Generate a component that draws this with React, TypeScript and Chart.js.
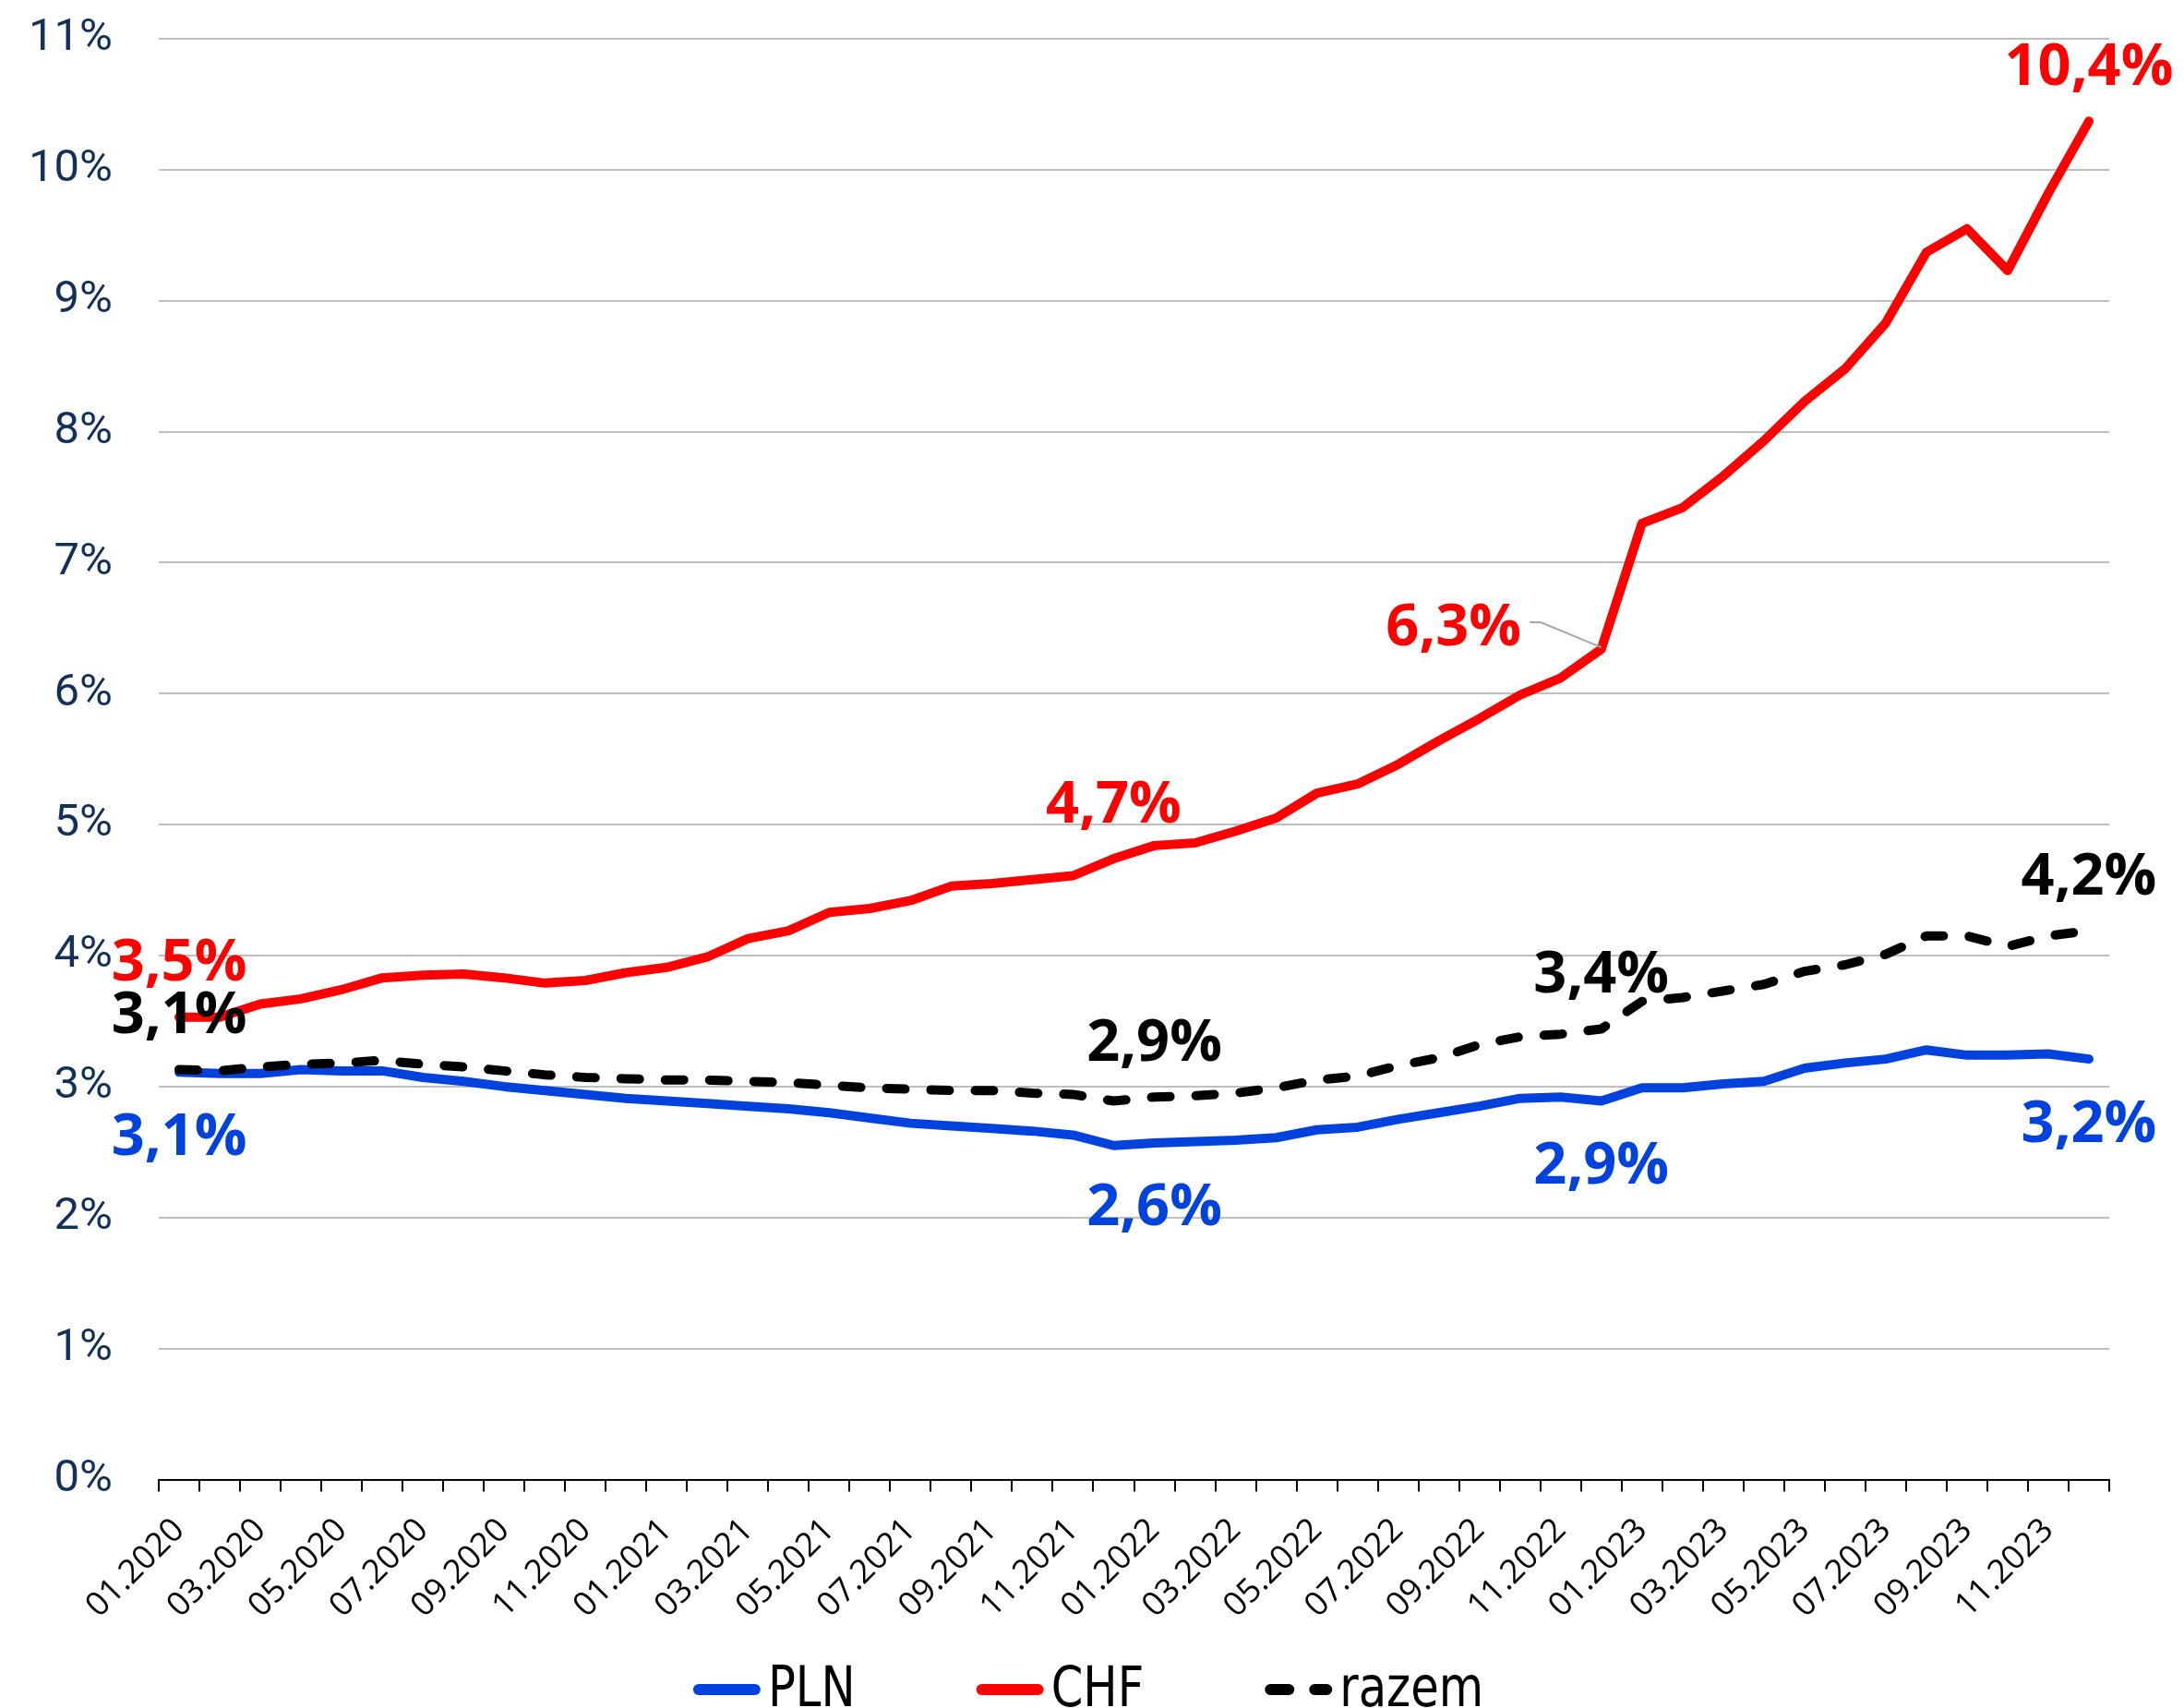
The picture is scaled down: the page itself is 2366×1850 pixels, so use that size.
import React, { useEffect, useRef } from 'react';
import { Chart, registerables } from 'chart.js';

Chart.register(...registerables);

// ---------- data ----------
const MONTHS = [
  '01.2020', '02.2020', '03.2020', '04.2020', '05.2020', '06.2020',
  '07.2020', '08.2020', '09.2020', '10.2020', '11.2020', '12.2020',
  '01.2021', '02.2021', '03.2021', '04.2021', '05.2021', '06.2021',
  '07.2021', '08.2021', '09.2021', '10.2021', '11.2021', '12.2021',
  '01.2022', '02.2022', '03.2022', '04.2022', '05.2022', '06.2022',
  '07.2022', '08.2022', '09.2022', '10.2022', '11.2022', '12.2022',
  '01.2023', '02.2023', '03.2023', '04.2023', '05.2023', '06.2023',
  '07.2023', '08.2023', '09.2023', '10.2023', '11.2023', '12.2023',
];

const PLN = [
  3.11, 3.10, 3.10, 3.13, 3.12, 3.12, 3.07, 3.04, 3.00, 2.97, 2.94, 2.91,
  2.89, 2.87, 2.85, 2.83, 2.80, 2.76, 2.72, 2.70, 2.68, 2.66, 2.63, 2.55,
  2.57, 2.58, 2.59, 2.61, 2.67, 2.69, 2.75, 2.80, 2.85, 2.91, 2.92, 2.89,
  2.99, 2.99, 3.02, 3.04, 3.14, 3.18, 3.21, 3.28, 3.24, 3.24, 3.25, 3.21,
];

const CHF = [
  3.53, 3.53, 3.63, 3.67, 3.74, 3.83, 3.85, 3.86, 3.83, 3.79, 3.81, 3.87,
  3.91, 3.99, 4.13, 4.19, 4.33, 4.36, 4.42, 4.53, 4.55, 4.58, 4.61, 4.74,
  4.84, 4.86, 4.95, 5.05, 5.24, 5.31, 5.46, 5.64, 5.81, 5.99, 6.12, 6.34,
  7.30, 7.42, 7.66, 7.93, 8.23, 8.48, 8.83, 9.37, 9.55, 9.23, 9.82, 10.37,
];

const RAZEM = [
  3.13, 3.12, 3.15, 3.17, 3.18, 3.20, 3.17, 3.15, 3.12, 3.09, 3.07, 3.06,
  3.05, 3.05, 3.04, 3.03, 3.01, 2.99, 2.98, 2.97, 2.97, 2.95, 2.94, 2.89,
  2.92, 2.93, 2.95, 2.99, 3.05, 3.08, 3.16, 3.22, 3.32, 3.38, 3.40, 3.44,
  3.65, 3.68, 3.73, 3.78, 3.88, 3.93, 4.01, 4.15, 4.15, 4.07, 4.15, 4.19,
];

const SERIES_NAMES = ['PLN', 'CHF', 'razem'];

const Y_TICKS = [0, 1, 2, 3, 4, 5, 6, 7, 8, 9, 10, 11];

// which points carry a value label, and on which side
const POINT_LABELS = [
  { series: 'CHF', index: 0, place: 'above' },
  { series: 'razem', index: 0, place: 'above' },
  { series: 'PLN', index: 0, place: 'below' },
  { series: 'CHF', index: 23, place: 'above' },
  { series: 'razem', index: 24, place: 'above' },
  { series: 'PLN', index: 24, place: 'below' },
  { series: 'CHF', index: 35, place: 'leftLeader' },
  { series: 'razem', index: 35, place: 'above' },
  { series: 'PLN', index: 35, place: 'below' },
  { series: 'CHF', index: 47, place: 'above' },
  { series: 'razem', index: 47, place: 'above' },
  { series: 'PLN', index: 47, place: 'below' },
];

// ---------- styles ----------
const W = 2366;
const H = 1850;
const BLUE = '#0042DE';
const RED = '#FF0000';
const BLACK = '#000000';
const NAVY = '#12305A';
const GRID = '#BFBFBF';
const SERIES_COLORS: Record<string, string> = { PLN: BLUE, CHF: RED, razem: BLACK };
const PLACE: Record<string, { dx: number; dy: number }> = {
  above: { dx: 0, dy: -62 },
  below: { dx: 0, dy: 67 },
  leftLeader: { dx: -160, dy: -27 },
};
const LABEL_FONT_SIZE = 63;
const LEGEND = {
  font: '60px "DejaVu Sans Condensed", "DejaVu Sans", sans-serif',
  squeeze: 0.92,
  lineLen: 73,
  lineWidth: 12,
  textGap: 8,
  itemGap: 131,
  centerX: 1179,
  lineY: 1830,
  baseline: 1848,
};

const pointLabelPlugin = {
  id: 'pointLabels',
  afterDatasetsDraw(chart: any) {
    const ctx = chart.ctx;
    ctx.save();
    ctx.font = `bold ${LABEL_FONT_SIZE}px "Open Sans", "Noto Sans", sans-serif`;
    ctx.textAlign = 'center';
    ctx.textBaseline = 'alphabetic';
    for (const lab of POINT_LABELS) {
      const dsIndex = SERIES_NAMES.indexOf(lab.series);
      const meta = chart.getDatasetMeta(dsIndex);
      const pt = meta.data[lab.index];
      if (!pt) continue;
      const value = chart.data.datasets[dsIndex].data[lab.index] as number;
      const text = value.toFixed(1).replace('.', ',') + '%';
      const off = PLACE[lab.place];
      const cx = pt.x + off.dx;
      const cy = pt.y + off.dy;
      ctx.fillStyle = SERIES_COLORS[lab.series];
      ctx.fillText(text, cx, cy + LABEL_FONT_SIZE * 0.357);
      if (lab.place === 'leftLeader') {
        const tw = ctx.measureText(text).width;
        const sx = cx + tw / 2 + 9;
        const sy = cy - 2;
        ctx.save();
        ctx.strokeStyle = '#A6A6A6';
        ctx.lineWidth = 2;
        ctx.beginPath();
        ctx.moveTo(sx, sy);
        ctx.lineTo(sx + 12, sy);
        ctx.lineTo(pt.x, pt.y - 2);
        ctx.stroke();
        ctx.restore();
      }
    }
    ctx.restore();
  },
};

// legend drawn from the datasets' own label / colour / dash settings
const bottomLegendPlugin = {
  id: 'bottomLegend',
  afterDraw(chart: any) {
    const ctx = chart.ctx;
    const dsets = chart.data.datasets;
    ctx.save();
    ctx.font = LEGEND.font;
    const widths = dsets.map((d: any) => ctx.measureText(d.label).width * LEGEND.squeeze);
    const itemW = widths.map((w: number) => LEGEND.lineLen + LEGEND.textGap + w);
    const total = itemW.reduce((a: number, b: number) => a + b, 0) + LEGEND.itemGap * (dsets.length - 1);
    let x = LEGEND.centerX - total / 2;
    dsets.forEach((d: any, i: number) => {
      const r = LEGEND.lineWidth / 2;
      ctx.save();
      ctx.strokeStyle = d.borderColor;
      ctx.lineWidth = LEGEND.lineWidth;
      ctx.lineCap = 'round';
      ctx.setLineDash(d.borderDash || []);
      ctx.beginPath();
      ctx.moveTo(x + r, LEGEND.lineY);
      ctx.lineTo(x + LEGEND.lineLen - r, LEGEND.lineY);
      ctx.stroke();
      ctx.restore();
      const tx = x + LEGEND.lineLen + LEGEND.textGap;
      ctx.save();
      ctx.fillStyle = BLACK;
      ctx.textAlign = 'left';
      ctx.textBaseline = 'alphabetic';
      ctx.translate(tx, LEGEND.baseline);
      ctx.scale(LEGEND.squeeze, 1);
      ctx.fillText(d.label, 0, 0);
      ctx.restore();
      x += itemW[i] + LEGEND.itemGap;
    });
    ctx.restore();
  },
};

export default function App() {
  const canvasRef = useRef<HTMLCanvasElement | null>(null);

  useEffect(() => {
    const canvas = canvasRef.current;
    if (!canvas) return;
    const common = {
      borderWidth: 10,
      pointRadius: 0,
      pointHoverRadius: 0,
      tension: 0,
      borderJoinStyle: 'round' as const,
      borderCapStyle: 'round' as const,
      fill: false,
    };
    const chart = new Chart(canvas, {
      type: 'line',
      data: {
        labels: MONTHS,
        datasets: [
          { ...common, label: SERIES_NAMES[0], data: PLN, borderColor: BLUE, backgroundColor: BLUE, order: 2 },
          { ...common, label: SERIES_NAMES[1], data: CHF, borderColor: RED, backgroundColor: RED, order: 1 },
          {
            ...common,
            label: SERIES_NAMES[2],
            data: RAZEM,
            borderColor: BLACK,
            backgroundColor: BLACK,
            borderDash: [20, 28],
            order: 0,
          },
        ],
      },
      options: {
        responsive: false,
        maintainAspectRatio: false,
        animation: false,
        devicePixelRatio: 1,
        layout: { padding: { top: 42, right: 81, bottom: 87.5, left: 0 } },
        plugins: {
          tooltip: { enabled: false },
          title: { display: false },
          legend: { display: false },
        },
        scales: {
          x: {
            type: 'category',
            offset: true,
            grid: {
              offset: true,
              drawOnChartArea: false,
              drawTicks: true,
              tickLength: 13,
              color: BLACK,
              lineWidth: 2,
            },
            border: { display: true, color: BLACK, width: 2 },
            ticks: {
              autoSkip: false,
              maxRotation: 45,
              minRotation: 45,
              padding: 21,
              color: BLACK,
              font: { family: '"Open Sans", "Noto Sans", sans-serif', size: 36 },
              callback: (_v: any, i: number) => (i % 2 === 0 ? MONTHS[i] : ''),
            },
            afterFit: (s: any) => {
              s.height = 160;
            },
          },
          y: {
            type: 'linear',
            min: Y_TICKS[0],
            max: Y_TICKS[Y_TICKS.length - 1],
            grid: {
              color: GRID,
              lineWidth: 2,
              drawTicks: true,
              tickLength: 50,
              tickColor: 'rgba(0,0,0,0)',
            },
            border: { display: false },
            ticks: {
              stepSize: 1,
              padding: 0,
              color: NAVY,
              font: { family: 'Roboto, "Open Sans", sans-serif', size: 49 },
              callback: (v: any) => `${v}%`,
            },
            afterFit: (s: any) => {
              s.width = 172;
            },
          },
        },
      },
      plugins: [pointLabelPlugin, bottomLegendPlugin],
    });
    return () => chart.destroy();
  }, []);

  return (
    <div style={{ position: 'absolute', left: 0, top: 0, width: W, height: H, background: '#fff' }}>
      <canvas ref={canvasRef} width={W} height={H} style={{ width: W, height: H, display: 'block' }} />
    </div>
  );
}
